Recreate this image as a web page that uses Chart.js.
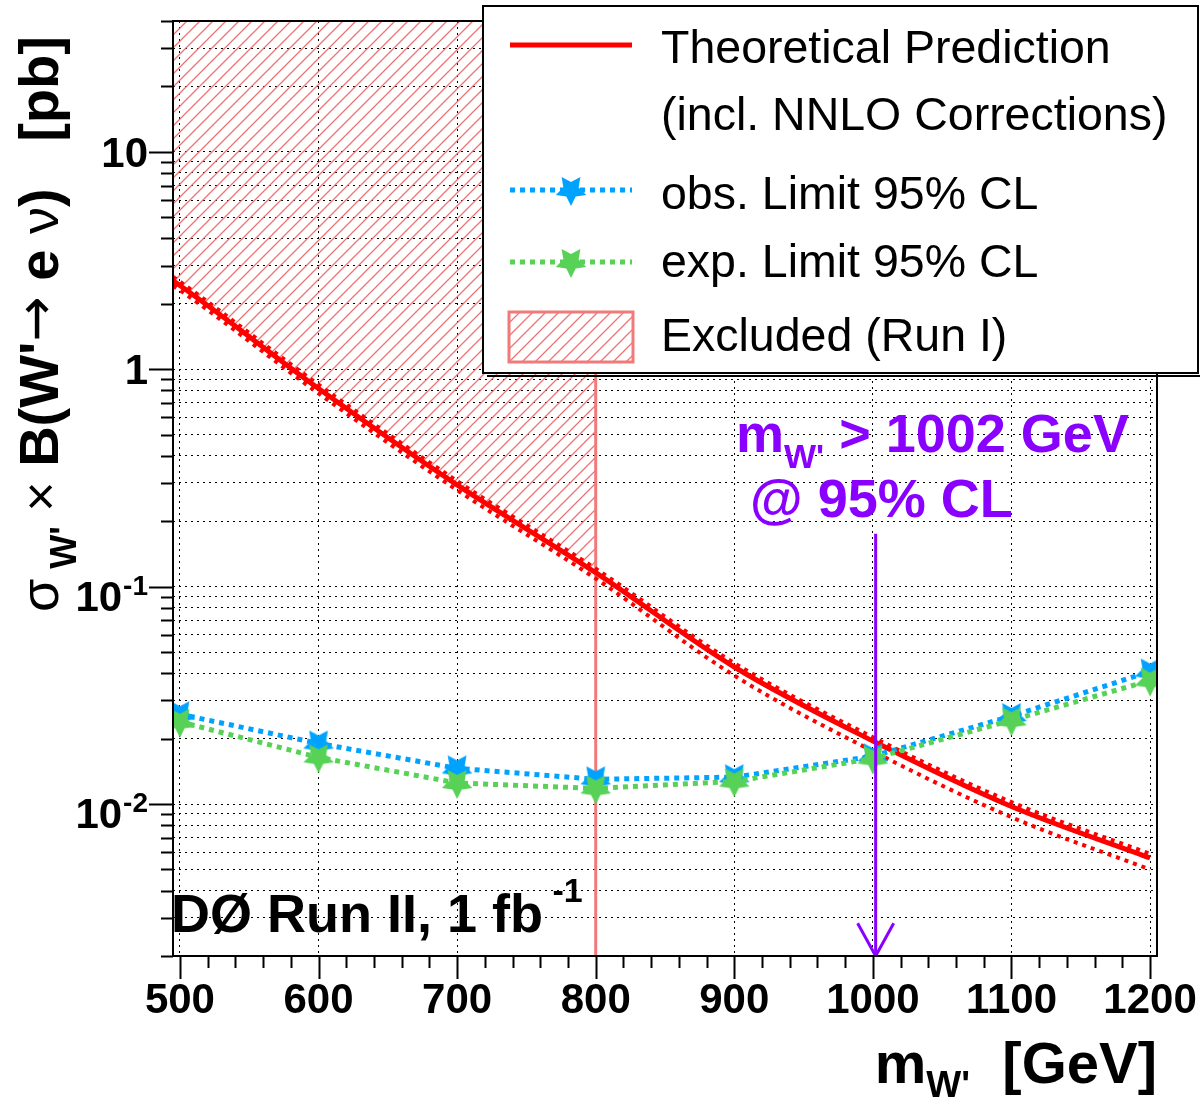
<!DOCTYPE html>
<html>
<head>
<meta charset="utf-8">
<script src="https://cdn.jsdelivr.net/npm/chart.js@4.4.1/dist/chart.umd.min.js"></script>
<style>
  html, body { margin: 0; padding: 0; background: #fff; }
  #wrap { width: 1200px; height: 1099px; }
</style>
</head>
<body>
<div id="wrap"><canvas id="chart" width="1200" height="1099"></canvas></div>
<script>
// W' mass points [GeV]
var massPoints = [500, 600, 700, 800, 900, 1000, 1100, 1200];
// observed / expected 95% CL limits [pb]
var obsLimit = [0.0259, 0.0190, 0.0146, 0.0130, 0.0133, 0.0166, 0.0254, 0.0407];
var expLimit = [0.0239, 0.0164, 0.0125, 0.0118, 0.0127, 0.0162, 0.0243, 0.0370];

// theoretical prediction (NNLO) with its band
var theoryMass  = [495, 500, 600, 700, 800, 900, 1000, 1100, 1200];
var theoryXsec  = [2.55, 2.43, 0.816, 0.294, 0.116, 0.0427, 0.0195, 0.00975, 0.00565];
var theoryUpper = [2.66, 2.53, 0.850, 0.306, 0.121, 0.0445, 0.0203, 0.0102, 0.0059];
var theoryLower = [2.42, 2.31, 0.775, 0.278, 0.109, 0.0390, 0.0175, 0.0087, 0.0050];

var runOneLimit = 800;     // excluded (Run I) up to here
var massLimit = 1002;      // new limit
var arrowTop = 0.175;

var xMin = 495, xMax = 1205, yMin = 0.002, yMax = 40;
var xTicks = [500, 600, 700, 800, 900, 1000, 1100, 1200];
var yMajorTicks = [0.01, 0.1, 1, 10];
var yMajorLabels = [['10', '-2'], ['10', '-1'], ['1', ''], ['10', '']];
var yMinorSteps = [2, 3, 4, 5, 6, 7, 8, 9];

var FONT = "'Liberation Sans', Arial, 'DejaVu Sans', sans-serif";
var RED = '#ff0000', BLUE = '#00a2ff', GREEN = '#57d257', PINK = '#f07a7a', PURPLE = '#8a00ff';

function xy(xs, ys) { return xs.map(function(x, i) { return {x: x, y: ys[i]}; }); }

function makeStar(color, r) {
  var c = document.createElement('canvas');
  c.width = c.height = 2 * r + 2;
  var g = c.getContext('2d');
  g.fillStyle = color;
  g.beginPath();
  for (var i = 0; i < 10; i++) {
    var rad = i % 2 === 0 ? r : r * 0.5;
    var a = Math.PI / 2 + i * Math.PI / 5;
    var px = r + 1 + rad * Math.cos(a), py = r + 1 + rad * Math.sin(a);
    if (i === 0) g.moveTo(px, py); else g.lineTo(px, py);
  }
  g.closePath();
  g.fill();
  return c;
}

function makeHatch() {
  var s = 13, c = document.createElement('canvas');
  c.width = c.height = s;
  var g = c.getContext('2d');
  g.strokeStyle = 'rgba(236,100,100,0.9)';
  g.lineWidth = 1.3;
  g.beginPath();
  g.moveTo(-1, s + 1); g.lineTo(s + 1, -1);
  g.moveTo(-2, 2); g.lineTo(2, -2);
  g.moveTo(s - 2, s + 2); g.lineTo(s + 2, s - 2);
  g.stroke();
  return c.getContext('2d').createPattern(c, 'repeat');
}

var ctx = document.getElementById('chart').getContext('2d');
var hatch = makeHatch();
var blueStar = makeStar(BLUE, 16);
var greenStar = makeStar(GREEN, 16);

var yTickValues = [];
[0.001, 0.01, 0.1, 1, 10].forEach(function(d) {
  [1].concat(yMinorSteps).forEach(function(m) {
    var v = +(d * m).toPrecision(3);
    if (v >= yMin && v <= yMax) yTickValues.push(v);
  });
});

var exclMass = theoryMass.filter(function(m) { return m <= runOneLimit; });

function drawRich(g, segs, x, y) {
  segs.forEach(function(s) {
    g.font = s.font;
    g.fillStyle = s.color || '#000';
    g.fillText(s.t, x, y + (s.dy || 0));
    x += g.measureText(s.t).width;
  });
  return x;
}
function richWidth(g, segs) {
  var w = 0;
  segs.forEach(function(s) { g.font = s.font; w += g.measureText(s.t).width; });
  return w;
}

var decor = {
  id: 'decor',
  beforeDraw: function(chart) {
    var g = chart.ctx;
    g.save(); g.fillStyle = '#fff'; g.fillRect(0, 0, chart.width, chart.height); g.restore();
  },
  afterDraw: function(chart) {
    var g = chart.ctx, a = chart.chartArea;
    var xs = chart.scales.x, ys = chart.scales.y;
    g.save();
    g.textAlign = 'left';
    g.textBaseline = 'alphabetic';

    // frame
    g.strokeStyle = '#000';
    g.lineWidth = 2;
    g.strokeRect(a.left, a.top, a.right - a.left, a.bottom - a.top);

    // tick marks (outside)
    g.lineWidth = 2;
    g.beginPath();
    yTickValues.forEach(function(v) {
      var py = Math.round(ys.getPixelForValue(v)) + 0.5;
      var len = yMajorTicks.indexOf(v) >= 0 ? 24 : 12;
      g.moveTo(a.left - len, py); g.lineTo(a.left, py);
    });
    for (var m = 500; m <= 1200; m += 20) {
      var px = Math.round(xs.getPixelForValue(m)) + 0.5;
      var len2 = m % 100 === 0 ? 23 : 12;
      g.moveTo(px, a.bottom); g.lineTo(px, a.bottom + len2);
    }
    g.stroke();

    // y tick labels with exponents
    yMajorTicks.forEach(function(v, i) {
      var py = ys.getPixelForValue(v);
      var lab = yMajorLabels[i];
      g.fillStyle = '#000';
      g.textAlign = 'right';
      if (lab[1]) {
        g.font = 'bold 28px ' + FONT;
        g.fillText(lab[1], 148, py + 8);
        var ew = g.measureText(lab[1]).width;
        g.font = 'bold 42px ' + FONT;
        g.fillText(lab[0], 148 - ew - 1, py + 24);
      } else {
        g.font = 'bold 42px ' + FONT;
        g.fillText(lab[0], 148, py + 15);
      }
    });
    g.textAlign = 'left';

    // y axis title (rotated)
    g.save();
    g.translate(58, 612);
    g.rotate(-Math.PI / 2);
    drawRich(g, [
      {t: '\u03c3', font: '54px ' + FONT},
      {t: ' W\'', font: 'bold 36px ' + FONT, dy: 18},
      {t: ' \u00d7 ', font: '52px ' + FONT},
      {t: 'B(W\'', font: 'bold 56px ' + FONT},
      {t: '\u2192', font: '54px "DejaVu Sans", sans-serif', dy: -4},
      {t: ' e ', font: 'bold 56px ' + FONT},
      {t: '\u03bd', font: '54px ' + FONT},
      {t: ')', font: 'bold 56px ' + FONT},
      {t: '   [pb]', font: 'bold 56px ' + FONT}
    ], 0, 0);
    g.restore();

    // x axis title, right aligned to frame
    var xt = [
      {t: 'm', font: 'bold 58px ' + FONT},
      {t: 'W\'', font: 'bold 37px ' + FONT, dy: 14},
      {t: '  [GeV]', font: 'bold 58px ' + FONT}
    ];
    drawRich(g, xt, a.right - richWidth(g, xt), 1083);

    // experiment label
    drawRich(g, [
      {t: 'D\u00d8 Run II, 1 fb', font: 'bold 54px ' + FONT},
      {t: ' -1', font: 'bold 34px ' + FONT, dy: -30}
    ], 171, 932);

    // mass limit annotation
    drawRich(g, [
      {t: 'm', font: 'bold 54px ' + FONT, color: PURPLE},
      {t: 'W\'', font: 'bold 34px ' + FONT, dy: 16, color: PURPLE},
      {t: ' > 1002 GeV', font: 'bold 54px ' + FONT, color: PURPLE}
    ], 736, 452);
    drawRich(g, [
      {t: '@ 95% CL', font: 'bold 54px ' + FONT, color: PURPLE}
    ], 750, 517);

    // legend box
    var L = 483, T = 6, R = 1198, B = 373;
    g.fillStyle = '#fff';
    g.fillRect(L, T, R - L, B - T);
    g.strokeStyle = '#000';
    g.lineWidth = 2;
    g.strokeRect(L, T, R - L, B - T);
    g.beginPath(); g.moveTo(L + 4, B + 3); g.lineTo(R + 3, B + 3); g.stroke();

    // legend samples
    g.lineWidth = 5;
    g.strokeStyle = RED;
    g.beginPath(); g.moveTo(510, 45); g.lineTo(632, 45); g.stroke();
    g.setLineDash([5, 5]);
    g.strokeStyle = BLUE;
    g.beginPath(); g.moveTo(510, 190); g.lineTo(632, 190); g.stroke();
    g.strokeStyle = GREEN;
    g.beginPath(); g.moveTo(510, 262); g.lineTo(632, 262); g.stroke();
    g.setLineDash([]);
    g.drawImage(blueStar, 571 - 17, 190 - 17);
    g.drawImage(greenStar, 571 - 17, 262 - 17);
    g.fillStyle = hatch;
    g.fillRect(509, 312, 124, 50);
    g.strokeStyle = PINK;
    g.lineWidth = 3;
    g.strokeRect(509, 312, 124, 50);

    g.fillStyle = '#000';
    g.font = '46.5px ' + FONT;
    g.fillText('Theoretical Prediction', 661, 63);
    g.fillText('(incl. NNLO Corrections)', 661, 130);
    g.fillText('obs. Limit 95% CL', 661, 209);
    g.fillText('exp. Limit 95% CL', 661, 277);
    g.fillText('Excluded (Run I)', 661, 351);
    g.restore();
  }
};

var chart = new Chart(ctx, {
  type: 'line',
  data: {
    datasets: [
      { // Run I excluded region: hatched above the theory curve
        data: xy(exclMass, theoryXsec),
        borderWidth: 0, pointRadius: 0,
        cubicInterpolationMode: 'monotone',
        backgroundColor: hatch, fill: 'end', order: 10
      },
      {
        data: [{x: runOneLimit, y: yMin}, {x: runOneLimit, y: yMax}],
        borderColor: PINK, borderWidth: 3, pointRadius: 0, order: 9
      },
      {
        data: xy(theoryMass, theoryLower),
        borderColor: RED, borderWidth: 4, borderDash: [4, 5], pointRadius: 0,
        cubicInterpolationMode: 'monotone', order: 8
      },
      {
        data: xy(theoryMass, theoryUpper),
        borderColor: RED, borderWidth: 4, borderDash: [4, 5], pointRadius: 0,
        cubicInterpolationMode: 'monotone', order: 7
      },
      {
        label: 'Theoretical Prediction',
        data: xy(theoryMass, theoryXsec),
        borderColor: RED, borderWidth: 5, pointRadius: 0,
        cubicInterpolationMode: 'monotone', order: 6
      },
      {
        label: 'obs. Limit 95% CL',
        data: xy(massPoints, obsLimit),
        borderColor: BLUE, borderWidth: 5, borderDash: [5, 5],
        pointStyle: blueStar, pointRadius: 16, order: 5
      },
      {
        label: 'exp. Limit 95% CL',
        data: xy(massPoints, expLimit),
        borderColor: GREEN, borderWidth: 5, borderDash: [5, 5],
        pointStyle: greenStar, pointRadius: 16, order: 4
      },
      {
        data: [{x: massLimit, y: arrowTop}, {x: massLimit, y: yMin}],
        borderColor: PURPLE, borderWidth: 3, pointRadius: 0, order: 1
      },
      {
        data: [{x: massLimit - 13, y: 0.00283}, {x: massLimit, y: yMin}, {x: massLimit + 13, y: 0.00283}],
        borderColor: PURPLE, borderWidth: 3, pointRadius: 0, order: 1
      }
    ]
  },
  options: {
    responsive: false,
    animation: false,
    layout: { padding: { top: 19, right: 43, left: 0, bottom: 0 } },
    plugins: { legend: { display: false }, tooltip: { enabled: false } },
    scales: {
      x: {
        type: 'linear', min: xMin, max: xMax,
        afterBuildTicks: function(s) { s.ticks = xTicks.map(function(v) { return {value: v}; }); },
        afterFit: function(s) { s.height = 143; s.paddingLeft = 0; s.paddingRight = 0; },
        grid: { color: '#000', lineWidth: 1, drawTicks: false },
        border: { display: false, dash: [2, 4] },
        ticks: {
          color: '#000', padding: 20, maxRotation: 0,
          font: { family: FONT, size: 42, weight: 'bold' },
          callback: function(v) { return String(v); }
        }
      },
      y: {
        type: 'logarithmic', min: yMin, max: yMax,
        afterBuildTicks: function(s) { s.ticks = yTickValues.map(function(v) { return {value: v}; }); },
        afterFit: function(s) { s.width = 173; s.paddingTop = 0; s.paddingBottom = 0; },
        grid: { color: '#000', lineWidth: 1, drawTicks: false },
        border: { display: false, dash: [2, 4] },
        ticks: { display: false }
      }
    }
  },
  plugins: [decor]
});
</script>
</body>
</html>
